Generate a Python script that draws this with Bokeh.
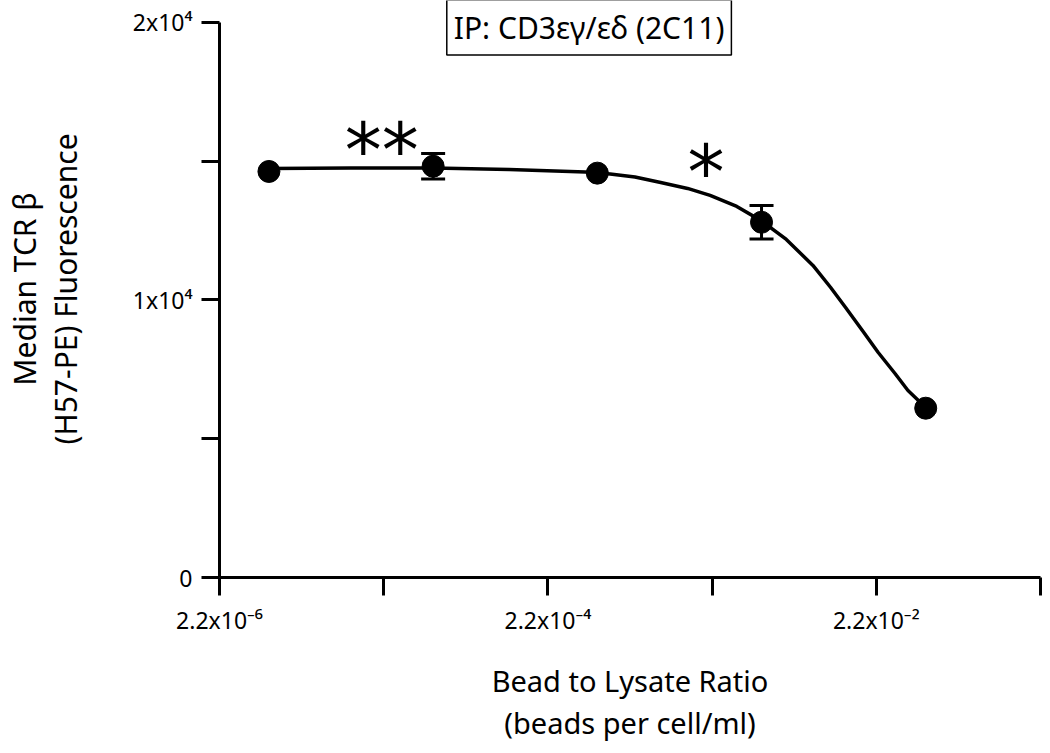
from bokeh.plotting import figure
from bokeh.models import FixedTicker, Whisker, ColumnDataSource, Label, TeeHead
from bokeh.core.properties import value
from bokeh.embed import file_html
from bokeh.resources import INLINE

# ---- data ----
x_points = [4.4e-6, 4.4e-5, 4.4e-4, 4.4e-3, 4.4e-2]
y_points = [14630, 14820, 14570, 12800, 6100]
y_err = [0, 460, 0, 600, 0]

curve_x = [4.4e-6, 1.39e-5, 4.4e-5, 1.28e-4, 3.72e-4, 5.27e-4, 7.46e-4, 1.07e-3,
           1.56e-3, 2.14e-3, 3.11e-3, 4.4e-3, 6.23e-3, 9.05e-3, 1.16e-2, 1.43e-2,
           1.81e-2, 2.26e-2, 2.86e-2, 3.43e-2, 4.4e-2]
curve_y = [14739, 14757, 14757, 14703, 14613, 14541, 14432, 14234,
           14018, 13766, 13369, 12850, 12180, 11243, 10450, 9730,
           8901, 8108, 7351, 6739, 6126]

x_ticks = [2.2e-6, 2.2e-5, 2.2e-4, 2.2e-3, 2.2e-2, 2.2e-1]
x_tick_labels = ["2.2x10\u207b\u2076", "", "2.2x10\u207b\u2074", "", "2.2x10\u207b\u00b2", ""]
y_ticks = [0, 5000, 10000, 15000, 20000]
y_tick_labels = ["0", "", "1x10\u2074", "", "2x10\u2074"]

star_x = [2.14e-5, 2.02e-3]
star_y = [15390, 14626]
star_text = ["**", "*"]

title_text = "IP: CD3\u03b5\u03b3/\u03b5\u03b4 (2C11)"
x_title = "Bead to Lysate Ratio\n(beads per cell/ml)"
y_title = "Median TCR \u03b2\n(H57-PE) Fluorescence"

FONT = "Noto Sans"
Y_TOP = 20790  # headroom above the last tick for the boxed title

p = figure(width=1042, height=745, x_axis_type="log",
           x_range=(x_ticks[0], x_ticks[-1]), y_range=(y_ticks[0], Y_TOP),
           output_backend="svg", toolbar_location=None,
           min_border_left=217, min_border_right=2, min_border_top=0,
           min_border_bottom=168)
p.outline_line_color = None
p.grid.visible = False
p.background_fill_color = "white"

for ax in (p.xaxis[0], p.yaxis[0]):
    ax.axis_line_width = 3
    ax.axis_line_color = "black"
    ax.major_tick_line_width = 3
    ax.major_tick_line_color = "black"
    ax.major_tick_out = 18
    ax.major_tick_in = 0
    ax.minor_tick_line_color = None
    ax.major_label_text_font = FONT
    ax.major_label_text_font_size = "23px"
    ax.major_label_text_color = "black"
    ax.axis_label_text_font = FONT
    ax.axis_label_text_font_style = "normal"
    ax.axis_label_text_color = "black"

p.xaxis.ticker = FixedTicker(ticks=x_ticks)
p.xaxis.major_label_overrides = {t: l for t, l in zip(x_ticks, x_tick_labels)}
p.xaxis.major_label_standoff = 8
p.xaxis.axis_label = x_title
p.xaxis.axis_label_text_font_size = "29px"
p.xaxis.axis_label_text_line_height = 1.1
p.xaxis.axis_label_standoff = 22

p.yaxis.ticker = FixedTicker(ticks=y_ticks)
p.yaxis.bounds = (y_ticks[0], y_ticks[-1])
p.yaxis.major_label_overrides = {t: l for t, l in zip(y_ticks, y_tick_labels)}
p.yaxis.major_label_standoff = 9
p.yaxis.axis_label = y_title
p.yaxis.axis_label_text_font_size = "30px"
p.yaxis.axis_label_text_line_height = 1.0
p.yaxis.axis_label_standoff = 44

p.line(curve_x, curve_y, line_width=3.5, line_color="black", line_join="round")

ex = [x for x, e in zip(x_points, y_err) if e > 0]
ey = [y for y, e in zip(y_points, y_err) if e > 0]
ee = [e for e in y_err if e > 0]
src = ColumnDataSource(dict(x=ex, upper=[y + e for y, e in zip(ey, ee)],
                            lower=[y - e for y, e in zip(ey, ee)]))
p.add_layout(Whisker(source=src, base="x", upper="upper", lower="lower",
                     line_width=3, line_color="black",
                     upper_head=TeeHead(size=24, line_width=3, line_color="black"),
                     lower_head=TeeHead(size=24, line_width=3, line_color="black")))

p.scatter(x_points, y_points, size=22, fill_color="black", line_color="black")

p.text(x=star_x, y=star_y, text=star_text, text_font=value("DejaVu Sans"),
       text_font_size="74px", text_align="center", text_baseline="alphabetic",
       text_color="black")

# boxed panel title
p.add_layout(Label(x=3.92e-4, y=19820, text=title_text, text_align="center",
                   text_baseline="middle", text_font=FONT, text_font_size="30px",
                   text_color="black", border_line_color="black",
                   border_line_width=1.5, background_fill_color="white",
                   padding=7))

open("out.html", "w").write(file_html(p, INLINE))
